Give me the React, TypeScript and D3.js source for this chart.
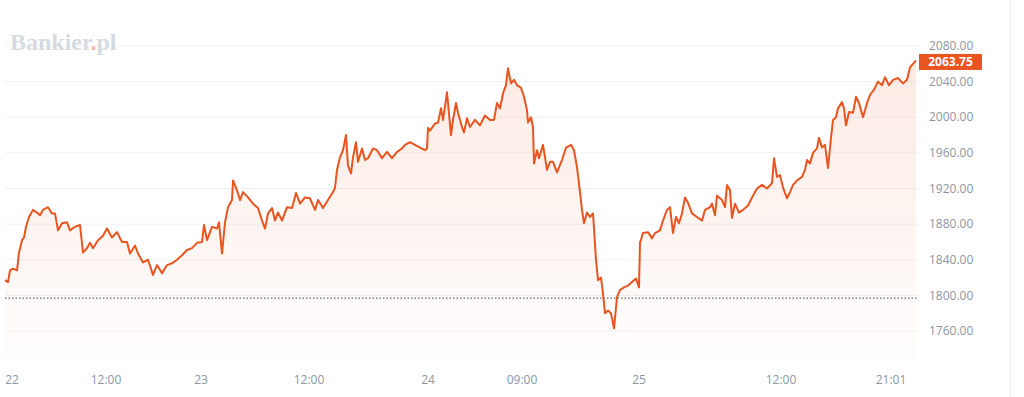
import React from 'react';
import * as d3 from 'd3';

// bar index (position on the session axis) and price
const barIdx = [
  5, 8, 10, 13, 17, 19, 22, 24, 26, 29, 33, 37, 40, 43, 48, 52, 55, 58, 62, 67, 70, 75, 80, 83, 87, 90, 93, 98,
  103, 107, 112, 117, 122, 127, 130, 135, 138, 143, 148, 153, 157, 162, 167, 172, 177, 182, 187, 192, 197, 202,
  204, 207, 212, 217, 219, 222, 225, 228, 232, 233, 237, 240, 243, 248, 253, 258, 262, 265, 268, 272, 275, 278,
  282, 287, 292, 296, 300, 305, 310, 315, 318, 323, 328, 333, 335, 337, 340, 343, 346, 348, 351, 353, 356, 358,
  362, 365, 368, 373, 377, 382, 387, 392, 397, 402, 405, 410, 415, 420, 425, 427, 428, 430, 435, 438, 441, 443,
  447, 451, 453, 456, 458, 462, 464, 467, 470, 475, 480, 485, 490, 494, 497, 500, 503, 506, 508, 511, 514, 517,
  521, 524, 527, 528, 531, 533, 534, 537, 539, 543, 547, 550, 553, 557, 562, 566, 571, 574, 577, 580, 582, 584,
  587, 590, 593, 594, 596, 598, 601, 603, 605, 608, 611, 614, 617, 620, 624, 628, 632, 636, 639, 640, 643, 648,
  652, 655, 660, 663, 667, 670, 673, 676, 679, 682, 685, 688, 692, 697, 702, 705, 710, 712, 715, 717, 722, 725,
  727, 730, 732, 735, 739, 743, 748, 753, 757, 762, 767, 772, 774, 777, 780, 783, 787, 790, 793, 797, 802, 805,
  807, 810, 813, 817, 819, 822, 825, 828, 831, 833, 836, 838, 842, 844, 846, 849, 853, 856, 859, 863, 867, 870,
  874, 878, 882, 885, 889, 893, 898, 903, 907, 910, 913, 916,
];
const price = [
  1817, 1815, 1828, 1830, 1828, 1848, 1862, 1865, 1877, 1888, 1896, 1893, 1890, 1896, 1899, 1892, 1892, 1873, 1881, 1882, 1873, 1877, 1879, 1848, 1853, 1859, 1853, 1862,
  1867, 1875, 1865, 1871, 1860, 1860, 1847, 1856, 1847, 1837, 1840, 1823, 1834, 1825, 1834, 1836, 1840, 1845, 1851, 1853, 1859, 1860,
  1879, 1862, 1877, 1875, 1882, 1847, 1882, 1899, 1907, 1929, 1918, 1907, 1916, 1910, 1903, 1898, 1884, 1875, 1892, 1898, 1884, 1893,
  1884, 1899, 1898, 1915, 1903, 1910, 1909, 1896, 1907, 1898, 1907, 1916, 1921, 1941, 1955, 1963, 1980, 1946, 1937, 1955, 1972, 1950,
  1965, 1952, 1954, 1965, 1963, 1954, 1961, 1954, 1961, 1965, 1969, 1972, 1969, 1966, 1963, 1965, 1988, 1985, 1993, 1994, 2010, 1997,
  2028, 1980, 1997, 2016, 2005, 1989, 1983, 1999, 1989, 1997, 1991, 2002, 1997, 1997, 2016, 2010, 2027, 2036, 2055, 2038, 2042, 2036,
  2033, 2023, 2008, 1994, 2000, 1989, 1948, 1963, 1954, 1969, 1941, 1950, 1950, 1938, 1952, 1966, 1969, 1963, 1944, 1916, 1896, 1881,
  1893, 1888, 1892, 1875, 1840, 1817, 1820, 1802, 1780, 1783, 1780, 1763, 1798, 1806, 1809, 1811, 1815, 1819, 1809, 1859, 1870, 1871,
  1864, 1870, 1873, 1884, 1896, 1899, 1870, 1888, 1881, 1892, 1910, 1904, 1892, 1888, 1884, 1896, 1899, 1903, 1890, 1912, 1907, 1899,
  1924, 1918, 1887, 1903, 1893, 1896, 1901, 1912, 1920, 1924, 1920, 1926, 1954, 1933, 1935, 1921, 1909, 1916, 1924, 1929, 1933, 1941,
  1952, 1948, 1960, 1965, 1977, 1966, 1969, 1943, 1977, 1997, 2000, 2010, 2017, 2010, 1991, 2006, 2005, 2023, 2016, 2000, 2016, 2025,
  2031, 2040, 2036, 2045, 2036, 2042, 2044, 2038, 2042, 2056, 2060, 2063.75,
];

const xTickIdx = [12, 106, 201, 309, 428, 522, 639, 781, 891];
const xTickLabels = ['22', '12:00', '23', '12:00', '24', '09:00', '25', '12:00', '21:01'];
const yTicks = [1760, 1800, 1840, 1880, 1920, 1960, 2000, 2040, 2080];
const prevClose = 1797;
const lastPrice = 2063.75;

const W = 1024;
const H = 397;
const plotLeft = 5;
const plotRight = 918;
const plotBottom = 362;
const orange = '#e9541f';
const labelColor = '#8c96a8';
const font = "'Open Sans', 'DejaVu Sans', sans-serif";

export default function App() {
  const x = d3.scaleLinear().domain([5, 918]).range([plotLeft, plotRight]);
  const y = d3.scaleLinear().domain([1760, 2080]).range([331, 46]);

  const pts = barIdx.map((b, i) => [b, price[i]] as [number, number]);

  const line = d3.line<[number, number]>()
    .x(d => x(d[0]))
    .y(d => y(d[1]));

  const area = d3.area<[number, number]>()
    .x(d => x(d[0]))
    .y0(plotBottom)
    .y1(d => y(d[1]));

  const tagY = y(lastPrice) + 1.5;

  return (
    <div style={{ position: 'absolute', left: 0, top: 0 }}>
      <svg width={W} height={H} style={{ display: 'block', background: '#fff' }}>
        <defs>
          <linearGradient id="fillGrad" x1="0" y1="0" x2="0" y2="1">
            <stop offset="0%" stopColor={orange} stopOpacity={0.12} />
            <stop offset="100%" stopColor={orange} stopOpacity={0.01} />
          </linearGradient>
        </defs>

        {yTicks.map(t => (
          <line key={t} x1={plotLeft} x2={plotRight} y1={y(t)} y2={y(t)}
            stroke="#f1f1f3" strokeWidth={1} />
        ))}

        <text x={10} y={50} fontFamily="'Liberation Serif', 'DejaVu Serif', serif" fontWeight="bold"
          fontSize={24} fill="#d6dae1">
          Bankier<tspan fill="#f2b8a8">.</tspan>pl
        </text>

        <path d={area(pts) || ''} fill="url(#fillGrad)" />

        <line x1={plotLeft} x2={plotRight} y1={y(prevClose)} y2={y(prevClose)}
          stroke="#5a6a82" strokeWidth={1.3} strokeDasharray="1.5 2" />

        <path d={line(pts) || ''} fill="none" stroke={orange} strokeWidth={2}
          strokeLinejoin="round" />

        {yTicks.map(t => (
          <text key={t} x={929} y={y(t)} dy="0.35em" fontFamily={font} fontSize={12}
            fill={labelColor}>
            {t.toFixed(2)}
          </text>
        ))}

        <rect x={919} y={tagY - 8} width={63} height={16} fill={orange} />
        <text x={950.5} y={tagY} dy="0.35em" textAnchor="middle" fontFamily={font}
          fontSize={12} fontWeight="bold" fill="#fff">
          {lastPrice.toFixed(2)}
        </text>

        {xTickIdx.map((b, i) => (
          <text key={i} x={x(b)} y={384} textAnchor="middle" fontFamily={font} fontSize={12}
            fill={labelColor}>
            {xTickLabels[i]}
          </text>
        ))}

        <line x1={1010.5} x2={1010.5} y1={0} y2={H} stroke="#ececec" strokeWidth={1} />
      </svg>
    </div>
  );
}
